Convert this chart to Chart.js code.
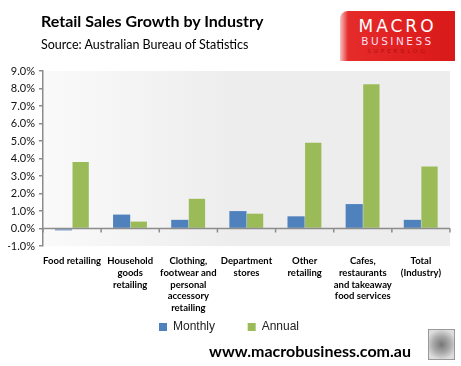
<!DOCTYPE html>
<html>
<head>
<meta charset="utf-8">
<script src="https://cdn.jsdelivr.net/npm/chart.js@4"></script>
<style>
  body { margin: 0; background: #fff; }
  #wrap { position: relative; width: 461px; height: 366px; font-family: Lato, "Open Sans", sans-serif; }
  #chart { position: absolute; left: 0; top: 0; }
  .titulo { position: absolute; left: 41px; top: 11px; font-size: 16px; font-weight: bold; color: #000; }
  .fonte { position: absolute; left: 41px; top: 37px; font-size: 12.5px; color: #000; }
  .logo { position: absolute; left: 340px; top: 11px; width: 115px; height: 50px;
          background: linear-gradient(90deg, #f6c4c4 0%, #e52b2b 7%, #e01f1f 60%, #d91a1a 100%);
          border-top-left-radius: 8px; text-align: center; color: #fff; font-family: "DejaVu Sans", sans-serif; }
  .logo .a { font-size: 17px; letter-spacing: 3px; margin-top: 6px; line-height: 18px; }
  .logo .b { font-size: 10.5px; letter-spacing: 2.5px; line-height: 12px; color: #fde; }
  .logo .c { font-size: 5.5px; letter-spacing: 3px; line-height: 8px; color: #b01010; }
  .rodape { position: absolute; left: 0; width: 620px; top: 341px; text-align: center; font-size: 16px; font-weight: bold; color: #000; }
  .lobo { position: absolute; left: 428px; top: 329px; width: 25px; height: 29px; border: 1px solid #999;
          background: radial-gradient(circle at 50% 50%, #777 0%, #aaa 45%, #ddd 80%); }
</style>
</head>
<body>
<div id="wrap">
  <canvas id="chart" width="461" height="366"></canvas>
  <div class="titulo">Retail Sales Growth by Industry</div>
  <div class="fonte">Source: Australian Bureau of Statistics</div>
  <div class="logo"><div class="a">MACRO</div><div class="b">BUSINESS</div><div class="c">SUPERBLOG</div></div>
  <div class="rodape">www.macrobusiness.com.au</div>
  <div class="lobo"></div>
</div>
<script>
// Categorias e séries
const categorias = [
    ['Food retailing'],
    ['Household', 'goods', 'retailing'],
    ['Clothing,', 'footwear and', 'personal', 'accessory', 'retailing'],
    ['Department', 'stores'],
    ['Other', 'retailing'],
    ['Cafes,', 'restaurants', 'and takeaway', 'food services'],
    ['Total', '(Industry)']
];
const mensal = [-0.1, 0.8, 0.5, 1.0, 0.7, 1.4, 0.5];
const anual = [3.8, 0.4, 1.7, 0.85, 4.9, 8.25, 3.55];
const eixoMin = -1;
const eixoMax = 9;

// Fundo da área do gráfico com degradê
const fundoPlugin = {
    id: 'fundo',
    beforeDraw(chart) {
        const { ctx, chartArea: a } = chart;
        const g = ctx.createLinearGradient(a.left, 0, a.left + 190, 0);
        g.addColorStop(0, '#fafafa');
        g.addColorStop(1, '#ededed');
        ctx.save();
        ctx.fillStyle = g;
        ctx.fillRect(a.left, a.top, a.right - a.left, a.bottom - a.top);
        ctx.restore();
    }
};

// Linha do zero com marcas entre categorias
const zeroPlugin = {
    id: 'zero',
    afterDatasetsDraw(chart) {
        const { ctx, chartArea: a, scales } = chart;
        const y0 = scales.y.getPixelForValue(0);
        const x = scales.x;
        const passo = x.getPixelForValue(1) - x.getPixelForValue(0);
        ctx.save();
        ctx.strokeStyle = '#8c8c8c';
        ctx.lineWidth = 1.5;
        ctx.beginPath();
        ctx.moveTo(a.left, y0);
        ctx.lineTo(a.right, y0);
        for (let i = 0; i <= categorias.length; i++) {
            const px = x.getPixelForValue(0) - passo / 2 + i * passo;
            ctx.moveTo(px, y0);
            ctx.lineTo(px, y0 + 4);
        }
        ctx.stroke();
        ctx.restore();
    }
};

const ctx = document.getElementById('chart').getContext('2d');
new Chart(ctx, {
    type: 'bar',
    data: {
        labels: categorias,
        datasets: [{
            label: 'Monthly',
            data: mensal,
            backgroundColor: '#4F81BD',
            barPercentage: 1,
            categoryPercentage: 0.59
        }, {
            label: 'Annual',
            data: anual,
            backgroundColor: '#9BBB59',
            barPercentage: 0.95,
            categoryPercentage: 0.59
        }]
    },
    options: {
        responsive: false,
        animation: false,
        layout: { padding: { top: 71, left: 8, right: 11, bottom: 23 } },
        plugins: {
            legend: {
                position: 'bottom',
                labels: {
                    boxWidth: 8, boxHeight: 8, padding: 6,
                    color: '#222',
                    font: { family: 'Liberation Sans, Arial, sans-serif', size: 12 },
                    generateLabels(chart) {
                        const itens = Chart.defaults.plugins.legend.labels.generateLabels(chart);
                        itens[0].text = itens[0].text + '\u00a0\u00a0\u00a0\u00a0\u00a0\u00a0\u00a0\u00a0';
                        return itens;
                    }
                }
            },
            tooltip: { enabled: false }
        },
        scales: {
            x: {
                grid: { display: false },
                border: { display: false },
                ticks: {
                    color: '#000',
                    maxRotation: 0,
                    autoSkip: false,
                    padding: 1,
                    font: { family: 'Lato, sans-serif', size: 9.5, weight: 'bold', lineHeight: 1.24 }
                }
            },
            y: {
                min: eixoMin,
                max: eixoMax,
                grid: { drawOnChartArea: false, tickLength: 4, color: '#8c8c8c', lineWidth: 1.5 },
                border: { color: '#8c8c8c', width: 1.5 },
                ticks: {
                    stepSize: 1,
                    autoSkip: false,
                    color: '#111',
                    padding: 4,
                    font: { family: 'Lato, sans-serif', size: 11 },
                    callback: v => v.toFixed(1) + '%'
                },
                afterFit(scale) { scale.width = 35; }
            }
        }
    },
    plugins: [fundoPlugin, zeroPlugin]
});
</script>
</body>
</html>
